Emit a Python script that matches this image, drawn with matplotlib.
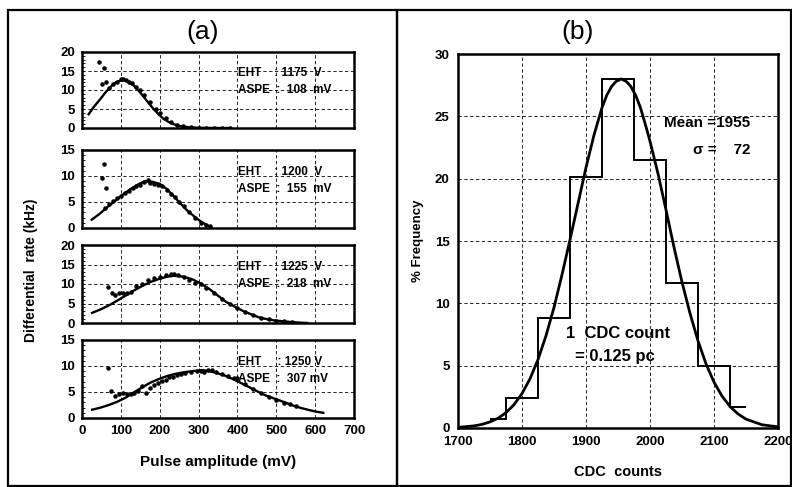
import matplotlib
matplotlib.use("Agg")
import matplotlib.pyplot as plt
from matplotlib.ticker import MultipleLocator
from matplotlib.patches import Rectangle

plt.rcParams["font.family"] = ["Liberation Sans", "DejaVu Sans"]
plt.rcParams["font.weight"] = "bold"

# ---- panel (a): differential rate spectra ----
eht_labels = ["EHT    : 1175  V", "EHT    : 1200  V", "EHT    : 1225  V", "EHT     : 1250 V"]
aspe_labels = ["ASPE  :  108  mV", "ASPE  :  155  mV", "ASPE  :  218  mV", "ASPE  :  307 mV"]
ymax_a = [20, 15, 20, 15]

fit1_x = [17, 30, 47, 60, 73, 87, 100, 107, 120, 133, 146, 159, 172, 185, 198, 210, 223, 236, 250, 262, 280, 305, 340, 382]
fit1_y = [3.6, 5.5, 7.6, 9.3, 10.8, 12.0, 12.5, 12.6, 12.2, 11.2, 9.8, 8.2, 6.5, 4.9, 3.5, 2.4, 1.6, 1.0, 0.55, 0.35, 0.15, 0.05, 0.0, 0.0]
dot1_x = [43, 56, 52, 63, 70, 80, 90, 100, 105, 112, 120, 128, 140, 150, 160, 175, 190, 200, 215, 230, 245, 260, 280, 300, 320, 340, 360, 380]
dot1_y = [17.4, 15.7, 11.5, 12.0, 10.6, 11.5, 12.1, 12.8, 13.0, 12.6, 12.2, 11.8, 10.8, 10.0, 8.6, 6.8, 5.0, 4.0, 2.6, 1.6, 0.9, 0.5, 0.2, 0.1, 0.05, 0.0, 0.0, 0.0]

fit2_x = [25, 45, 65, 85, 105, 125, 145, 162, 180, 200, 218, 235, 252, 269, 286, 303, 320, 333]
fit2_y = [1.6, 2.7, 4.0, 5.2, 6.4, 7.5, 8.4, 9.0, 8.9, 8.5, 7.5, 6.2, 4.8, 3.5, 2.4, 1.4, 0.6, 0.1]
dot2_x = [56, 52, 63, 60, 70, 80, 90, 100, 110, 120, 130, 140, 150, 160, 170, 175, 185, 195, 205, 220, 230, 240, 250, 262, 275, 290, 305, 320, 330]
dot2_y = [12.4, 9.6, 7.7, 3.9, 4.6, 5.1, 5.8, 6.2, 6.8, 7.2, 7.6, 8.0, 8.3, 8.9, 9.2, 8.6, 8.4, 8.2, 8.0, 7.3, 6.6, 6.0, 5.0, 4.2, 3.0, 2.0, 1.0, 0.5, 0.3]

fit3_x = [26, 48, 69, 90, 112, 133, 155, 176, 198, 220, 237, 260, 284, 306, 328, 350, 371, 393, 414, 436, 457, 480, 500, 543, 580]
fit3_y = [2.6, 3.5, 4.5, 5.7, 7.0, 8.3, 9.5, 10.5, 11.3, 11.9, 12.1, 11.9, 11.2, 10.1, 8.7, 7.0, 5.4, 4.2, 3.1, 2.2, 1.4, 0.9, 0.6, 0.2, 0.0]
dot3_x = [66, 78, 86, 95, 105, 115, 125, 140, 155, 170, 185, 200, 215, 228, 238, 248, 262, 275, 290, 305, 320, 340, 360, 380, 400, 420, 440, 460, 480, 500, 520, 540]
dot3_y = [9.3, 7.7, 7.2, 7.6, 7.8, 7.7, 8.0, 9.4, 10.1, 10.9, 11.5, 11.8, 12.2, 12.5, 12.6, 12.2, 11.9, 11.0, 10.2, 10.0, 9.1, 7.7, 6.1, 4.9, 3.8, 2.8, 2.0, 1.3, 0.9, 0.6, 0.4, 0.2]

fit4_x = [26, 48, 69, 90, 112, 133, 155, 176, 198, 220, 241, 262, 284, 310, 327, 345, 366, 388, 410, 431, 452, 474, 500, 522, 543, 565, 586, 604, 621]
fit4_y = [1.6, 2.0, 2.5, 3.1, 3.9, 4.9, 5.9, 6.8, 7.5, 8.1, 8.5, 8.8, 9.0, 9.2, 9.0, 8.7, 8.2, 7.5, 6.7, 5.9, 5.1, 4.3, 3.6, 3.0, 2.4, 1.9, 1.5, 1.2, 1.0]
dot4_x = [66, 75, 86, 95, 105, 115, 125, 135, 145, 155, 165, 175, 185, 195, 205, 215, 225, 235, 245, 255, 265, 280, 295, 305, 315, 325, 335, 345, 360, 375, 390, 400, 420, 440, 460, 480, 500, 520, 535, 550]
dot4_y = [9.7, 5.1, 4.3, 4.7, 4.8, 4.7, 4.6, 4.9, 5.1, 6.2, 4.9, 5.8, 6.3, 6.8, 7.2, 7.4, 7.8, 7.9, 8.2, 8.4, 8.6, 8.8, 9.0, 9.1, 8.9, 9.2, 9.3, 8.9, 8.5, 8.0, 7.7, 7.6, 6.5, 5.6, 4.9, 4.1, 3.4, 2.9, 2.6, 2.3]

x_ticks_a = [0, 100, 200, 300, 400, 500, 600, 700]

# ---- panel (b): CDC histogram ----
hist_edges = [1750, 1775, 1825, 1875, 1925, 1975, 2025, 2075, 2125, 2150]
hist_pct = [0.7, 2.4, 8.8, 20.1, 28.0, 21.5, 11.6, 5.0, 1.7]
fit_b_x = [1700, 1725, 1737.5, 1750, 1762.5, 1775, 1787.5, 1800, 1812.5, 1825, 1837.5, 1850,
           1862.5, 1875, 1887.5, 1900, 1912.5, 1925, 1932.5, 1940, 1947, 1955, 1963, 1970,
           1977.5, 1985, 1992.5, 2000, 2012.5, 2025, 2037.5, 2050, 2062.5, 2075, 2087.5,
           2100, 2112.5, 2125, 2137.5, 2150, 2175, 2200]
fit_b_y = [0.05, 0.17, 0.29, 0.49, 0.78, 1.23, 1.87, 2.76, 3.95, 5.49, 7.4, 9.67,
           12.3, 15.1, 18.0, 20.9, 23.5, 25.7, 26.7, 27.4, 27.8, 28.0, 27.8, 27.4,
           26.7, 25.7, 24.4, 23.0, 20.4, 17.5, 14.5, 11.7, 9.2, 6.99, 5.15,
           3.68, 2.56, 1.72, 1.13, 0.71, 0.26, 0.09]

W, H = 792, 487
fig = plt.figure(figsize=(W / 100, H / 100), dpi=100)


def fbox(left, top, right, bottom):
    return [left / W, 1 - bottom / H, (right - left) / W, (bottom - top) / H]


grid_kw = dict(color="black", lw=0.6, ls=(0, (4, 3)), zorder=0)

a_rows = [(52, 128), (150, 228), (245, 323), (340, 418)]
fits = [(fit1_x, fit1_y), (fit2_x, fit2_y), (fit3_x, fit3_y), (fit4_x, fit4_y)]
dots = [(dot1_x, dot1_y), (dot2_x, dot2_y), (dot3_x, dot3_y), (dot4_x, dot4_y)]

for i, (top, bot) in enumerate(a_rows):
    ax = fig.add_axes(fbox(82, top, 354, bot))
    fx, fy = fits[i]
    dx, dy = dots[i]
    ax.plot(fx, fy, color="black", lw=1.7, zorder=3)
    ax.scatter(dx, dy, s=5, color="black", zorder=4)
    ax.set_xlim(0, 700)
    ax.set_ylim(0, ymax_a[i])
    ax.yaxis.set_major_locator(MultipleLocator(5))
    ax.yaxis.set_minor_locator(MultipleLocator(1))
    ax.set_xticks(x_ticks_a)
    ax.grid(True, axis="both", **grid_kw)
    ax.tick_params(which="major", length=0, labelsize=9.5, pad=5)
    ax.tick_params(which="minor", direction="in", length=2.5, width=0.6, left=True, bottom=False)
    if i < 3:
        ax.set_xticklabels([])
    for sp in ax.spines.values():
        sp.set_linewidth(1.8)
    ax.text(0.575, 0.72, eht_labels[i], transform=ax.transAxes, fontsize=8.5,
            fontweight="bold", va="center", ha="left", zorder=5)
    ax.text(0.575, 0.50, aspe_labels[i], transform=ax.transAxes, fontsize=8.5,
            fontweight="bold", va="center", ha="left", zorder=5)
    if i == 3:
        ax.set_xlabel("Pulse amplitude (mV)", fontsize=11, fontweight="bold", labelpad=13)

fig.text(31 / W, 1 - 270 / H, "Differential  rate (kHz)", rotation=90, fontsize=10,
         fontweight="bold", ha="center", va="center")
fig.text(203 / W, 1 - 32 / H, "(a)", fontsize=19, fontweight="normal", ha="center", va="center")

axb = fig.add_axes(fbox(458, 54, 778, 428))
axb.stairs(hist_pct, hist_edges, baseline=None, color="black", lw=1.4, zorder=3)
axb.plot(fit_b_x, fit_b_y, color="black", lw=2.0, zorder=4)
axb.set_xlim(1700, 2200)
axb.set_ylim(0, 30)
axb.set_xticks([1700, 1800, 1900, 2000, 2100, 2200])
axb.set_yticks([0, 5, 10, 15, 20, 25, 30])
axb.grid(True, **grid_kw)
axb.tick_params(length=0, labelsize=9.5, pad=6)
for sp in axb.spines.values():
    sp.set_linewidth(1.8)
axb.set_xlabel("CDC  counts", fontsize=10.5, fontweight="bold", labelpad=12)
axb.set_ylabel("% Frequency", fontsize=9.5, fontweight="bold", labelpad=8)
axb.text(2157, 24.5, "Mean =1955", fontsize=11, fontweight="bold", ha="right", va="center", zorder=5)
axb.text(2157, 22.3, "σ =    72", fontsize=11, fontweight="bold", ha="right", va="center", zorder=5)
axb.text(1950, 7.6, "1  CDC count", fontsize=12, fontweight="bold", ha="center", va="center", zorder=5)
axb.text(1945, 5.7, "= 0.125 pc", fontsize=12, fontweight="bold", ha="center", va="center", zorder=5)
fig.text(578 / W, 1 - 32 / H, "(b)", fontsize=19, fontweight="normal", ha="center", va="center")

# outer panel frames
fig.add_artist(Rectangle((8 / W, 1 / H), (397 - 8) / W, (477 - 1) / H, transform=fig.transFigure,
                         fill=False, lw=1.6, edgecolor="black"))
fig.add_artist(Rectangle((397 / W, 1 / H), (791 - 397) / W, (477 - 1) / H, transform=fig.transFigure,
                         fill=False, lw=1.6, edgecolor="black"))

fig.savefig("out.png", dpi=100)
